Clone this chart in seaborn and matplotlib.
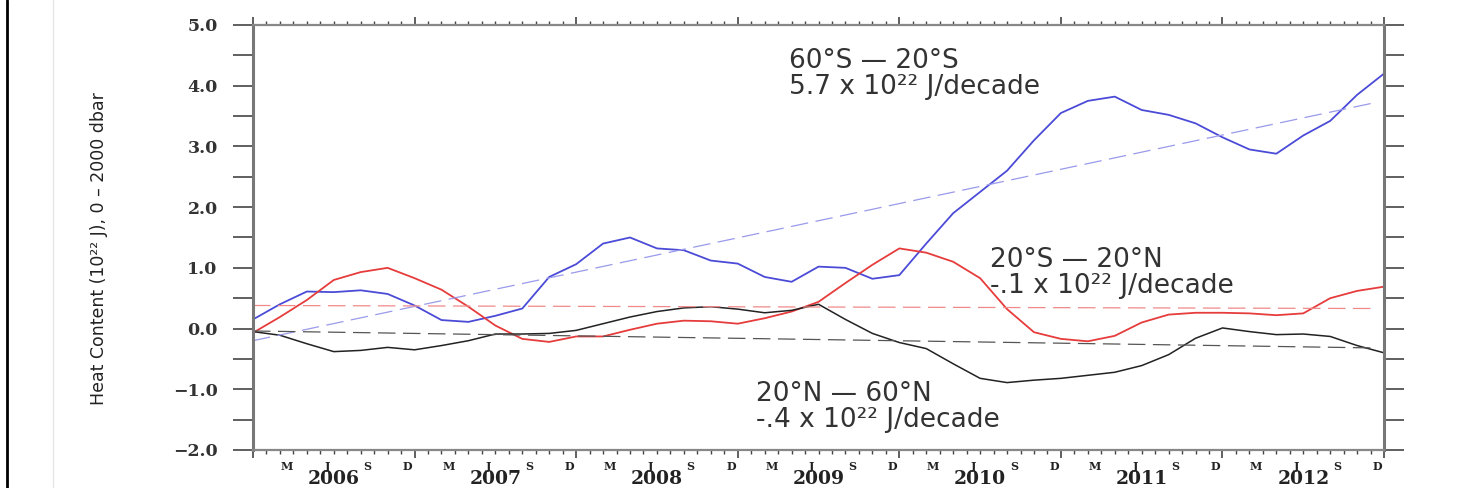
import numpy as np
import matplotlib
matplotlib.use("Agg")
import matplotlib.pyplot as plt
from matplotlib.lines import Line2D
import seaborn as sns

# months since Jan 2006, read every second month
months = np.arange(0, 85, 2)
t = 2006 + months / 12.0

# 60S - 20S
south = [0.15, 0.40, 0.61, 0.60, 0.63, 0.57, 0.38, 0.14, 0.11, 0.21,
         0.33, 0.85, 1.06, 1.40, 1.50, 1.32, 1.29, 1.12, 1.07, 0.85,
         0.77, 1.02, 1.00, 0.82, 0.88, 1.40, 1.90, 2.25, 2.60, 3.10,
         3.55, 3.75, 3.82, 3.60, 3.52, 3.38, 3.15, 2.95, 2.88, 3.18,
         3.42, 3.85, 4.20]
# 20S - 20N
tropics = [-0.07, 0.19, 0.47, 0.80, 0.93, 1.00, 0.83, 0.64, 0.36, 0.05,
           -0.17, -0.22, -0.13, -0.13, -0.02, 0.08, 0.13, 0.12, 0.08, 0.17,
           0.28, 0.44, 0.75, 1.05, 1.32, 1.25, 1.10, 0.83, 0.32, -0.06,
           -0.17, -0.21, -0.12, 0.10, 0.23, 0.26, 0.26, 0.25, 0.22, 0.25,
           0.50, 0.62, 0.69]
# 20N - 60N
north = [-0.05, -0.11, -0.25, -0.38, -0.36, -0.31, -0.35, -0.28, -0.20, -0.09,
         -0.09, -0.08, -0.03, 0.08, 0.19, 0.28, 0.34, 0.36, 0.32, 0.26,
         0.30, 0.40, 0.15, -0.08, -0.23, -0.33, -0.58, -0.82, -0.89, -0.85,
         -0.82, -0.77, -0.72, -0.61, -0.43, -0.16, 0.01, -0.05, -0.10, -0.09,
         -0.13, -0.28, -0.40]

# linear trends (end points)
trend_t = [2006.0, 2012.96]
south_trend = [-0.20, 3.73]
tropics_trend = [0.38, 0.33]
north_trend = [-0.04, -0.32]

years = list(range(2006, 2013))
month_letters = ["M", "J", "S", "D"]
month_offsets = [2.5, 5.5, 8.5, 11.5]
ytick_vals = [5.0, 4.0, 3.0, 2.0, 1.0, 0.0, -1.0, -2.0]
ytick_labels = ["5.0", "4.0", "3.0", "2.0", "1.0", "0.0", "\u22121.0", "\u22122.0"]

sns.set_theme(style="white")
plt.rcParams['font.family'] = ['DejaVu Sans']

fig = plt.figure(figsize=(14.64, 4.88), dpi=100)
ax = fig.add_axes([0.1728, 0.0779, 0.7726, 0.8709])

# series
sns.lineplot(x=t, y=south, ax=ax, color="#4b4bd8", linewidth=1.3)
sns.lineplot(x=t, y=tropics, ax=ax, color="#e63c3c", linewidth=1.3)
sns.lineplot(x=t, y=north, ax=ax, color="#222222", linewidth=1.1)
# trends
sns.lineplot(x=trend_t, y=south_trend, ax=ax, color="#9a9aec", linewidth=0.9, linestyle=(0, (14, 6)))
sns.lineplot(x=trend_t, y=tropics_trend, ax=ax, color="#f08a8a", linewidth=0.9, linestyle=(0, (14, 6)))
sns.lineplot(x=trend_t, y=north_trend, ax=ax, color="#555555", linewidth=0.9, linestyle=(0, (14, 6)))

ax.set_xlim(2006, 2013)
ax.set_ylim(-2, 5)

# y axis
ax.set_yticks(ytick_vals, ytick_labels, fontfamily="DejaVu Serif", fontweight="bold", fontsize=12.5, color="#333333")
ax.set_yticks(np.arange(-1.5, 5, 1.0), minor=True)
ax.tick_params(axis="y", which="both", left=True, right=True, direction="out",
               length=14.4, width=1.2, color="#444444", pad=11)
ax.set_ylabel("Heat Content (10\u00b2\u00b2 J), 0 \u2013 2000 dbar",
              fontfamily=["DejaVu Sans"], fontsize=12.5, color="#222222")
ax.yaxis.set_label_coords(-0.128, 0.475)

# x axis
ax.set_xticks(list(range(2006, 2014)))
ax.set_xticklabels([])
ax.set_xticks(2006 + np.arange(0, 85) / 12.0, minor=True)
ax.tick_params(axis="x", which="major", bottom=True, top=True, direction="out",
               length=6, width=1.2, color="#444444", labelbottom=False)
ax.tick_params(axis="x", which="minor", bottom=True, top=True, direction="out",
               length=3, width=1.0, color="#444444")

sec = ax.secondary_xaxis("bottom")
mpos = [y + o / 12.0 for y in years for o in month_offsets]
sec.set_xticks(mpos, month_letters * len(years), fontfamily="DejaVu Serif",
               fontweight="bold", fontsize=8, color="#222222")
sec.tick_params(length=0, pad=8)
sec.spines["bottom"].set_visible(False)

for y in years:
    ax.text(y + 0.5, -0.068, str(y), transform=ax.get_xaxis_transform(),
            ha="center", va="center", fontfamily="DejaVu Serif",
            fontweight="bold", fontsize=13.5, color="#222222")

for side in ["left", "right"]:
    ax.spines[side].set_color("#777777")
    ax.spines[side].set_linewidth(2.2)
for side in ["top", "bottom"]:
    ax.spines[side].set_color("#888888")
    ax.spines[side].set_linewidth(1.6)

# annotations
txt = dict(fontsize=19, color="#333333", ha="left", va="center", linespacing=1.0)
ax.text(2009.32, 4.19, "60\u00b0S \u2014 20\u00b0S\n5.7 x 10\u00b2\u00b2 J/decade", **txt)
ax.text(2010.56, 0.92, "20\u00b0S \u2014 20\u00b0N\n-.1 x 10\u00b2\u00b2 J/decade", **txt)
ax.text(2009.11, -1.30, "20\u00b0N \u2014 60\u00b0N\n-.4 x 10\u00b2\u00b2 J/decade", **txt)

# frame lines of the pasted picture
fig.add_artist(Line2D([0.0048, 0.0048], [0, 1], transform=fig.transFigure, color="black", lw=2))
fig.add_artist(Line2D([0.036, 0.036], [0, 1], transform=fig.transFigure, color="#e6e6e6", lw=1))

fig.savefig("out.png", dpi=100)
